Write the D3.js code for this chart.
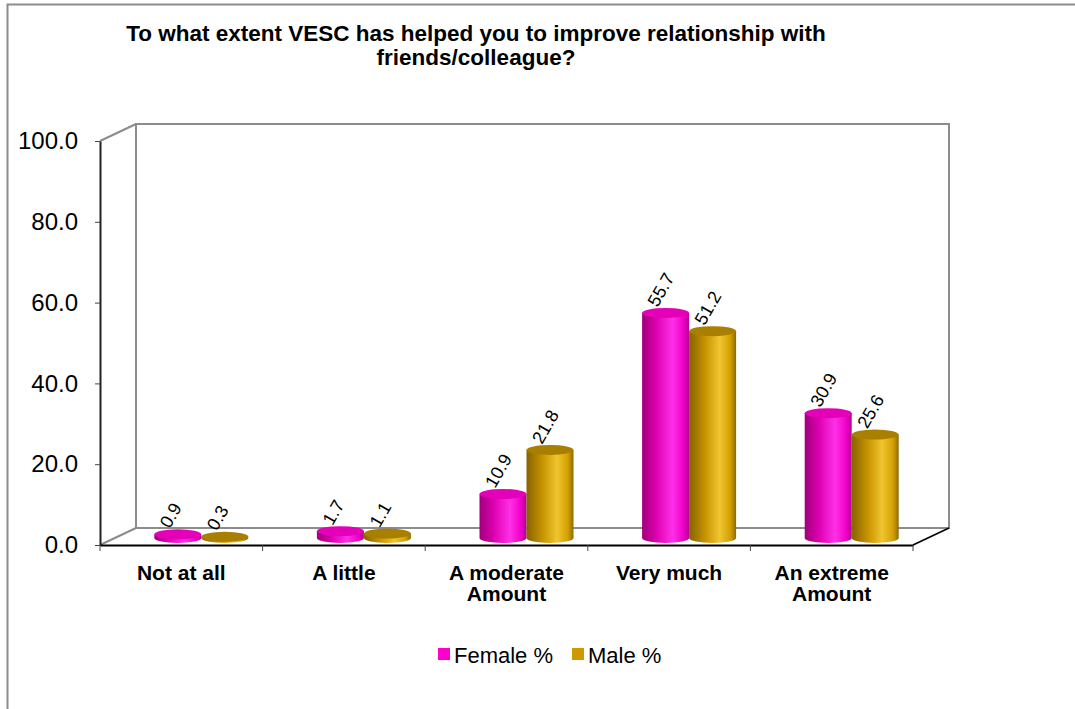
<!DOCTYPE html>
<html>
<head>
<meta charset="utf-8">
<script src="https://cdn.jsdelivr.net/npm/d3@7"></script>
<style>
  body { margin: 0; background: #fff; }
  text { font-family: "Liberation Sans", Arial, sans-serif; }
</style>
</head>
<body>
<div id="chart"></div>
<script>
var categories = [["Not at all"], ["A little"], ["A moderate", "Amount"], ["Very much"], ["An extreme", "Amount"]];
var catKeys = ["Not at all", "A little", "A moderate Amount", "Very much", "An extreme Amount"];
var series = ["Female %", "Male %"];
var female = [0.9, 1.7, 10.9, 55.7, 30.9];
var male = [0.3, 1.1, 21.8, 51.2, 25.6];
var yTicks = [0, 20, 40, 60, 80, 100];

var width = 1075, height = 709;
var depth = {dx: 36, dy: -17};   // wall depth
var barShift = {dx: 20, dy: -7}; // where the cylinders stand
var ry = 5;

var svg = d3.select("#chart").append("svg")
    .attr("width", width)
    .attr("height", height);

var defs = svg.append("defs");

function grad(id, stops) {
    var g = defs.append("linearGradient").attr("id", id)
        .attr("x1", "0%").attr("x2", "100%").attr("y1", "0%").attr("y2", "0%");
    stops.forEach(s => g.append("stop").attr("offset", s[0]).attr("stop-color", s[1]));
}
grad("g-female", [["0%", "#a0007a"], ["30%", "#dc00b0"], ["65%", "#ff30e8"], ["88%", "#f000c8"], ["100%", "#b4008e"]]);
grad("g-male", [["0%", "#876300"], ["35%", "#c89500"], ["65%", "#f0c530"], ["88%", "#d4a000"], ["100%", "#8c6a00"]]);

var topFill = {"Female %": "#e400b8", "Male %": "#a87f00"};
var legendFill = {"Female %": "#ff00cc", "Male %": "#cc9900"};

// outer border
svg.append("rect")
    .attr("x", 7.5).attr("y", 4.5)
    .attr("width", 1100).attr("height", 800)
    .attr("fill", "none").attr("stroke", "#8c8c8c").attr("stroke-width", 2);

var x = d3.scaleBand().domain(catKeys).range([100, 913]);
var xs = d3.scaleBand().domain(series).range([0, 94]);
var y = d3.scaleLinear().domain([0, 100]).range([545, 141]);

var x0 = x.range()[0], x1 = x.range()[1];
var yb = y(0), yt = y(100);
var bx0 = x0 + depth.dx, bx1 = x1 + depth.dx;
var byt = yt + depth.dy, byb = yb + depth.dy;

// walls (grey)
var wall = svg.append("g").attr("fill", "none").attr("stroke", "#8c8c8c").attr("stroke-width", 2);
wall.append("rect")
    .attr("x", bx0).attr("y", byt)
    .attr("width", bx1 - bx0).attr("height", byb - byt);
wall.append("line")
    .attr("x1", x0).attr("y1", yt)
    .attr("x2", bx0).attr("y2", byt);
wall.append("line")
    .attr("x1", x0).attr("y1", yb)
    .attr("x2", bx0).attr("y2", byb);

// floor right edge
svg.append("line")
    .attr("x1", x1).attr("y1", yb)
    .attr("x2", bx1).attr("y2", byb)
    .attr("stroke", "#000").attr("stroke-width", 1.6);

// y axis
var yAxis = svg.append("g")
    .attr("transform", `translate(${x0},0)`)
    .call(d3.axisLeft(y).tickValues(yTicks).tickFormat(d3.format(".1f")).tickSize(5).tickPadding(17).tickSizeOuter(0));
yAxis.select(".domain").attr("stroke", "#222").attr("stroke-width", 2);
yAxis.selectAll(".tick line").attr("stroke", "#444");
yAxis.selectAll(".tick text")
    .attr("font-size", 24)
    .attr("font-family", "Liberation Sans, Arial, sans-serif")
    .attr("fill", "#000");

// x axis
var xAxis = svg.append("g")
    .attr("transform", `translate(0,${yb})`)
    .call(d3.axisBottom(x).tickValues([]).tickSizeOuter(0));
xAxis.select(".domain").attr("stroke", "#000").attr("stroke-width", 2);
var bounds = x.domain().map(d => x(d)).concat([x1]);
xAxis.selectAll(".sep").data(bounds).enter().append("line")
    .attr("x1", d => d).attr("x2", d => d)
    .attr("y1", 0).attr("y2", 6)
    .attr("stroke", "#444");

var labels = svg.append("g").selectAll("text")
    .data(categories).enter().append("text")
    .attr("text-anchor", "middle")
    .attr("font-weight", "bold")
    .attr("font-size", 21)
    .attr("x", (d, i) => x(catKeys[i]) + x.bandwidth() / 2)
    .attr("y", 580);
labels.selectAll("tspan").data(d => d).enter().append("tspan")
    .attr("x", function() { return d3.select(this.parentNode).attr("x"); })
    .attr("dy", (d, i) => i === 0 ? 0 : 21)
    .text(d => d);

// bars
var rows = [];
catKeys.forEach((c, i) => {
    rows.push({cat: c, key: "Female %", value: female[i]});
    rows.push({cat: c, key: "Male %", value: male[i]});
});

var pairOffset = (x.bandwidth() - xs.range()[1]) / 2;
var bw = xs.bandwidth();

var bars = svg.append("g").selectAll("g.bar")
    .data(rows).enter().append("g").attr("class", "bar");

bars.each(function(d) {
    var g = d3.select(this);
    var left = x(d.cat) + pairOffset + xs(d.key) + barShift.dx;
    var rx = bw / 2;
    var cx = left + rx;
    var ybot = y(0) + barShift.dy;
    var ytop = y(d.value) + barShift.dy;
    var fill = d.key === "Female %" ? "url(#g-female)" : "url(#g-male)";
    g.append("path")
        .attr("d", `M${left},${ytop} L${left},${ybot} A${rx},${ry} 0 0 0 ${left + bw},${ybot} L${left + bw},${ytop} Z`)
        .attr("fill", fill);
    g.append("ellipse")
        .attr("cx", cx).attr("cy", ytop)
        .attr("rx", rx).attr("ry", ry)
        .attr("fill", topFill[d.key]);
    g.append("text")
        .attr("transform", `translate(${cx - 8},${ytop - 5}) rotate(-60)`)
        .attr("font-size", 18)
        .attr("fill", "#000")
        .text(d3.format(".1f")(d.value));
});

// title
svg.append("text")
    .attr("text-anchor", "middle")
    .attr("font-weight", "bold")
    .attr("font-size", 22.5)
    .selectAll("tspan")
    .data(["To what extent VESC has helped you to improve relationship with", "friends/colleague?"])
    .enter().append("tspan")
    .attr("x", 476)
    .attr("y", (d, i) => 41 + i * 24)
    .text(d => d);

// legend
var legend = svg.append("g").attr("transform", "translate(438,648)");
var items = legend.selectAll("g").data(series).enter().append("g")
    .attr("transform", (d, i) => `translate(${i * 134},0)`);
items.append("rect").attr("width", 12).attr("height", 12)
    .attr("fill", d => legendFill[d]);
items.append("text")
    .attr("x", 16).attr("y", 15)
    .attr("font-size", 22)
    .text(d => d);
</script>
</body>
</html>
